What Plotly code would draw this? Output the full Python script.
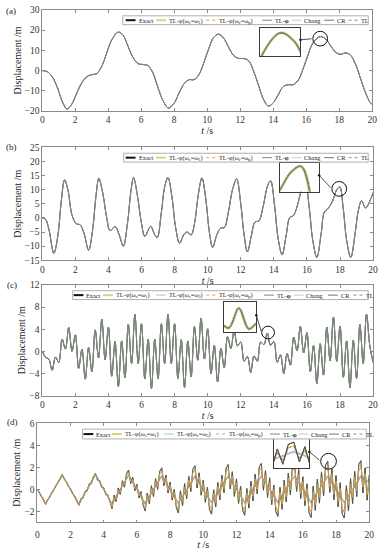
import re
import plotly.graph_objects as go

W, H = 385, 550
FONT = "Liberation Serif, Times New Roman, serif"

# ---------------- data ----------------
# (a)
t_a = [0, 0.3, 0.6, 0.9, 1.2, 1.5, 1.8, 2.1, 2.4, 2.7, 3.0, 3.3, 3.6, 3.9, 4.2, 4.6, 4.9, 5.2, 5.5, 5.8,
       6.1, 6.4, 6.7, 7.0, 7.3, 7.65, 8.0, 8.3, 8.6, 8.9, 9.2, 9.5, 9.8, 10.1, 10.4, 10.7, 11.0, 11.3,
       11.6, 11.9, 12.2, 12.5, 12.8, 13.1, 13.4, 13.7, 14.0, 14.3, 14.6, 14.9, 15.2, 15.5, 15.8, 16.1,
       16.4, 16.85, 17.2, 17.5, 17.8, 18.1, 18.4, 18.7, 19.0, 19.3, 19.6, 19.9, 20.0]
y_a = [0, -0.5, -3, -8, -15, -19, -16.5, -11, -6, -3, -2, -1.5, 2, 8.5, 15, 19, 17.5, 12, 6.5, 3.5,
       3, 2.5, -1, -8, -14.5, -18.5, -16, -11, -6.5, -4.5, -4.5, -2, 4, 11, 16.5, 18, 16, 11.5,
       7.5, 6, 6, 5, 0, -7, -14, -17.5, -16, -12, -8, -7, -7, -5, 0.5, 7.5,
       13.5, 16.8, 15.5, 12, 9, 8, 8.8, 7.5, 3, -4, -11, -16, -16.5]

# (b)
t_b = [0.0, 0.2, 0.4, 0.7, 0.95, 1.15, 1.35, 1.55, 1.8, 2.05,
       2.3, 2.55, 2.8, 3.05, 3.25, 3.42, 3.65, 3.9, 4.1, 4.4,
       4.65, 4.9, 5.15, 5.35, 5.52, 5.75, 6.0, 6.2, 6.55, 6.8,
       6.95, 7.2, 7.4, 7.6, 7.85, 8.05, 8.3, 8.55, 8.75, 9.0,
       9.2, 9.45, 9.65, 9.9, 10.1, 10.3, 10.55, 10.8, 11.0, 11.25,
       11.5, 11.75, 12.0, 12.2, 12.4, 12.65, 12.85, 13.1, 13.35, 13.6,
       13.8, 14.05, 14.25, 14.5, 14.75, 14.95, 15.2, 15.45, 15.7, 15.9,
       16.15, 16.35, 16.6, 16.85, 17.05, 17.3, 17.55, 17.8, 17.98, 18.2,
       18.4, 18.65, 18.9, 19.1, 19.3, 19.55, 19.8, 20.0]
y_b = [0, -0.5, -4, -12.5, -6, 6, 13.5, 10, 1, -2,
       -2.5, -6, -11.5, -4, 8, 14, 9, 0, -4.5, -3,
       -6, -10, -2, 9, 14.3, 8, -2, -6.5, -3, -6,
       -7, 2, 11, 14.3, 7, -3, -9, -6, -5, -6,
       -2, 9, 14.2, 6, -5, -10.5, -6, -3.5, -3.5, 2,
       10, 13.8, 5, -6, -12, -6, -1.5, -1, 4, 11,
       13.2, 4, -7, -13, -6, 0, 1, 5, 10.5, 12,
       3, -8, -14, -6, 2, 3.5, 6, 10, 11, 3,
       -8, -14, -6, 2.5, 6, 3.5, 6, 9]

# (c) sampled every 0.2 s
t_c = [round(0.2 * k, 1) for k in range(101)]
y_c = [0, -1.07, -1.42, -3.4, -1.02, -1.97, 2.17, 0.42, 4.3, 0.02,
       2.97, -3.07, 0.38, -5.0, 0.68, -3.67, 3.87, -1.18, 5.8, -1.48,
       4.37, -4.47, 1.78, -6.3, 1.88, -4.77, 4.87, -2.18, 6.7, -2.18,
       4.97, -4.97, 2.18, -6.7, 2.18, -4.97, 4.97, -2.18, 6.7, -2.18,
       4.97, -4.87, 2.08, -6.5, 1.88, -4.57, 4.47, -1.58, 6.0, -1.38,
       4.07, -3.97, 1.08, -5.5, 0.58, -2.97, 2.67, 0.52, 3.7, 1.02,
       1.67, -1.77, -0.92, -3.8, -0.82, -1.77, 1.67, 1.22, 3.3, 1.12,
       1.77, -1.97, -0.62, -4.0, -0.42, -2.47, 2.57, 0.12, 4.5, -0.28,
       3.37, -3.67, 1.08, -5.8, 1.38, -4.27, 4.37, -1.68, 6.2, -1.78,
       4.57, -4.67, 1.88, -6.5, 1.98, -4.87, 4.87, -2.18, 6.7, 1.0,
       -2.0]

# (d) sampled every 0.125 s
t_d_osc = [0.125 * k for k in range(161)]
# exact / TL-phi: full high-frequency response
y_d_osc = [0, -0.3, -0.7, -0.95,
           -1.35, -0.93, -0.7, -0.28, -0.05, 0.38, 0.6, 1.03, 1.35, 0.93, 0.7, 0.28, 0.05, -0.38, -0.6, -1.03,
           -1.45, -0.83, -0.8, -0.18, -0.15, 0.48, 0.5, 1.13, 1.45, 0.83, 0.8, 0.18, 0.15, -0.48, -0.5, -1.13,
           -1.75, -0.53, -1.1, 0.13, -0.45, 0.78, 0.2, 1.43, 1.75, 0.53, 1.1, -0.13, 0.45, -0.78, -0.2, -1.43,
           -1.95, -0.33, -1.3, 0.33, -0.65, 0.98, 0.0, 1.63, 1.95, 0.33, 1.3, -0.33, 0.65, -0.98, 0.0, -1.63,
           -2.15, -0.13, -1.5, 0.53, -0.85, 1.18, -0.2, 1.83, 2.15, 0.13, 1.5, -0.53, 0.85, -1.18, 0.2, -1.83,
           -2.25, -0.03, -1.6, 0.63, -0.95, 1.28, -0.3, 1.93, 2.25, 0.03, 1.6, -0.63, 0.95, -1.28, 0.3, -1.93,
           -2.35, 0.08, -1.7, 0.73, -1.05, 1.38, -0.4, 2.03, 2.35, -0.08, 1.7, -0.73, 1.05, -1.38, 0.4, -2.03,
           -2.45, 0.18, -1.8, 0.83, -1.15, 1.48, -0.5, 2.13, 2.45, -0.18, 1.8, -0.83, 1.15, -1.48, 0.5, -2.13,
           -2.55, 0.28, -1.9, 0.93, -1.25, 1.58, -0.6, 2.23, 2.55, -0.28, 1.9, -0.93, 1.25, -1.58, 0.6, -2.23,
           -2.6, 0.33, -1.95, 0.98, -1.3, 1.63, -0.65, 2.28, 2.6, -0.33, 1.95, -0.98, 1.3]
# TL-phi(wc=w1), TL-phi(wc=wp): reduced high-frequency response (orange / yellow band)
y_d_mid = [0, -0.32, -0.67, -0.97,
           -1.33, -0.95, -0.68, -0.3, -0.03, 0.36, 0.62, 1.0, 1.33, 0.95, 0.68, 0.3, 0.03, -0.36, -0.62, -1.0,
           -1.4, -0.88, -0.75, -0.23, -0.1, 0.43, 0.55, 1.08, 1.4, 0.88, 0.75, 0.23, 0.1, -0.43, -0.55, -1.08,
           -1.57, -0.71, -0.92, -0.06, -0.27, 0.6, 0.38, 1.25, 1.57, 0.71, 0.92, 0.06, 0.27, -0.6, -0.38, -1.25,
           -1.7, -0.58, -1.05, 0.08, -0.4, 0.73, 0.25, 1.38, 1.7, 0.58, 1.05, -0.08, 0.4, -0.73, -0.25, -1.38,
           -1.8, -0.48, -1.15, 0.18, -0.5, 0.83, 0.15, 1.48, 1.8, 0.48, 1.15, -0.18, 0.5, -0.83, -0.15, -1.48,
           -1.87, -0.41, -1.22, 0.25, -0.57, 0.9, 0.08, 1.55, 1.87, 0.41, 1.22, -0.25, 0.57, -0.9, -0.08, -1.55,
           -1.93, -0.35, -1.28, 0.31, -0.63, 0.96, 0.02, 1.61, 1.93, 0.35, 1.28, -0.31, 0.63, -0.96, -0.02, -1.61,
           -2.0, -0.28, -1.35, 0.38, -0.7, 1.03, -0.05, 1.68, 2.0, 0.28, 1.35, -0.38, 0.7, -1.03, 0.05, -1.68,
           -2.05, -0.23, -1.4, 0.43, -0.75, 1.08, -0.1, 1.73, 2.05, 0.23, 1.4, -0.43, 0.75, -1.08, 0.1, -1.73,
           -2.08, -0.2, -1.43, 0.46, -0.78, 1.11, -0.13, 1.76, 2.08, 0.2, 1.43, -0.46, 0.78]
# dissipative solutions (no high-frequency part)
t_d_tri = [0, 0.5, 1.5, 2.5, 3.5, 4.5, 5.5, 6.5, 7.5, 8.5, 9.5, 10.5, 11.5, 12.5, 13.5, 14.5,
           15.5, 16.5, 17.5, 18.5, 19.5, 20]
y_d_tri = [0, -1.3, 1.3, -1.35, 1.35, -1.35, 1.3, -1.3, 1.25, -1.25, 1.2, -1.2, 1.2, -1.2, 1.2, -1.2,
           1.2, -1.2, 1.2, -1.2, 1.2, 0.6]

# series labels
keys_ab = ["exact", "w1", "wp", "tlphi", "chang", "cr", "tl"]
keys_cd = ["exact", "w1", "w3", "wp", "tlphi", "chang", "cr", "tl"]
labels = {
    "exact": "Exact",
    "w1": "TL-φ(ω<sub>c</sub>=ω<sub>1</sub>)",
    "w3": "TL-φ(ω<sub>c</sub>=ω<sub>3</sub>)",
    "wp": "TL-φ(ω<sub>c</sub>=ω<sub>p</sub>)",
    "tlphi": "TL-<b>φ</b>",
    "chang": "Chang",
    "cr": "CR",
    "tl": "TL",
}
styles = {
    "exact": dict(color="#111111", width=0.5, dash="solid"),
    "w1": dict(color="#ddd27e", width=0.8, dash="solid"),
    "w3": dict(color="#9ccbe2", width=0.6, dash="solid"),
    "wp": dict(color="#ef9a4e", width=0.6, dash="dot"),
    "tlphi": dict(color="#7c8a7a", width=1.0, dash="solid"),
    "chang": dict(color="#cbc6dc", width=0.6, dash="solid"),
    "cr": dict(color="#6a7688", width=0.6, dash="solid"),
    "tl": dict(color="#8a8a8a", width=0.6, dash="dot"),
}
d_style = {"exact": dict(color="#2a2a22", width=0.7), "tlphi": dict(color="#4f5e45", width=0.7),
           "w1": dict(color="#d8bc5c", width=0.8), "wp": dict(color="#d9874a", width=0.9),
           "chang": dict(color="#c4b6d8", width=1.5)}

order_abc = ["w1", "wp", "chang", "exact", "cr", "tl", "tlphi"]
order_c = ["w1", "w3", "wp", "chang", "exact", "cr", "tl", "tlphi"]
panels = [
    dict(lab="(a)", keys=keys_ab, order=order_abc, iorder=order_abc,
         data={k: (t_a, y_a) for k in keys_ab}, shape="spline",
         xpx=(41, 377), ypx=(5, 108), yr=(-20, 30), dy=10, labpx=(2, 6),
         lgd=(123, 373, 11, 20), lgx=[126, 157, 208, 265, 295, 328, 353], ipx=(263, 304, 23, 52),
         irng=((16.35, 17.35), (13.3, 17.6)), circ=(16.85, 15.8, 7.5), xt_pad=0),
    dict(lab="(b)", keys=keys_ab, order=order_abc, iorder=order_abc,
         data={k: (t_b, y_b) for k in keys_ab}, shape="spline",
         xpx=(41, 378), ypx=(145, 260), yr=(-15, 25), dy=5, labpx=(2, 145),
         lgd=(124, 373, 151, 160), lgx=[126, 157, 208, 265, 295, 328, 353], ipx=(283, 323, 161, 190),
         irng=((17.6, 18.3), (6.5, 11.6)), circ=(17.95, 10.3, 7.5), xt_pad=0),
    dict(lab="(c)", keys=keys_cd, order=order_c, iorder=order_c,
         data={k: (t_c, y_c) for k in keys_cd}, shape="spline",
         xpx=(41, 378), ypx=(285, 398), yr=(-8, 12), dy=4, labpx=(3, 285),
         lgd=(72, 373, 291, 300), lgx=[73, 103, 157, 208, 267, 297, 332, 358], ipx=(226, 259, 303, 333),
         irng=((13.3, 13.95), (0.8, 3.9)), circ=(13.65, 3.4, 6.5), xt_pad=0),
    dict(lab="(d)", keys=keys_cd, order=["chang", "cr", "tl", "w3", "exact", "tlphi", "w1", "wp"],
         iorder=["w1", "wp", "w3", "cr", "tl", "chang", "exact", "tlphi"],
         data={"exact": (t_d_osc, y_d_osc), "tlphi": (t_d_osc, y_d_osc),
               "w1": (t_d_osc, y_d_mid), "wp": (t_d_osc, y_d_mid),
               "w3": (t_d_tri, y_d_tri), "chang": (t_d_tri, y_d_tri),
               "cr": (t_d_tri, y_d_tri), "tl": (t_d_tri, y_d_tri)},
         shape="linear",
         xpx=(36, 374), ypx=(426, 527), yr=(-3, 6), dy=2, labpx=(3, 425),
         lgd=(82, 371, 432, 442), lgx=[83, 112, 165, 218, 273, 302, 333, 358], ipx=(277, 313, 442, 472),
         irng=((17.05, 17.85), (-1.2, 3.0)), circ=(17.55, 2.55, 8), xt_pad=3),
]

fig = go.Figure()
shapes, annos = [], []
layout = dict(width=W, height=H, margin=dict(l=0, r=0, t=0, b=0),
              paper_bgcolor="white", plot_bgcolor="white", showlegend=False)

axis_base = dict(showline=True, linecolor="#8a8a8a", linewidth=0.8, mirror="ticks",
                 ticks="inside", ticklen=3, tickcolor="#8a8a8a", tickwidth=0.8,
                 showgrid=False, zeroline=False,
                 tickfont=dict(family=FONT, size=9.5, color="#333333"))
inset_base = dict(showline=True, linecolor="#3a3a3a", linewidth=1, mirror=True, ticks="",
                  showticklabels=False, showgrid=False, zeroline=False)


def get_style(p, k):
    st = dict(styles[k])
    if p["lab"] == "(d)" and k in d_style:
        st.update(d_style[k])
    return st


for i, p in enumerate(panels):
    n = i + 1
    ni = i + 5
    xs = "" if n == 1 else str(n)
    xid, yid = "x" + xs, "y" + xs
    xiid, yiid = "x%d" % ni, "y%d" % ni
    x0, x1 = p["xpx"]
    y0, y1 = p["ypx"]
    ymin, ymax = p["yr"]

    for k in p["order"]:
        st = get_style(p, k)
        tx, ty = p["data"][k]
        fig.add_trace(go.Scatter(x=tx, y=ty, mode="lines", name=re.sub(r"<.*?>", "", labels[k]),
                                 line=dict(color=st["color"], width=st["width"], dash=st["dash"],
                                           shape=p["shape"]),
                                 xaxis=xid, yaxis=yid, showlegend=False, hoverinfo="skip"))
    for k in p["iorder"]:
        st = get_style(p, k)
        tx, ty = p["data"][k]
        if k == "w1" and p["lab"] != "(d)":
            wdt = 3.0
        else:
            wdt = st["width"] * 1.3
        fig.add_trace(go.Scatter(x=tx, y=ty, mode="lines", name=re.sub(r"<.*?>", "", labels[k]),
                                 line=dict(color=st["color"], width=wdt, dash=st["dash"],
                                           shape=p["shape"]),
                                 xaxis=xiid, yaxis=yiid, showlegend=False, hoverinfo="skip"))

    xa = dict(axis_base, domain=[x0 / W, x1 / W], range=[0, 20], dtick=2, anchor=yid,
              title=dict(text="<i>t</i> /s", font=dict(family=FONT, size=10, color="#222"),
                         standoff=0 if p["xt_pad"] else 1))
    if p["xt_pad"]:
        xa["ticklabelstandoff"] = p["xt_pad"]
    ya = dict(axis_base, domain=[1 - y1 / H, 1 - y0 / H], range=[ymin, ymax], dtick=p["dy"],
              anchor=xid,
              title=dict(text="Displacement /m", font=dict(family=FONT, size=10, color="#222"),
                         standoff=1))
    layout["xaxis" + xs] = xa
    layout["yaxis" + xs] = ya

    ix0, ix1, iy0, iy1 = p["ipx"]
    (rx0, rx1), (ry0, ry1) = p["irng"]
    layout["xaxis%d" % ni] = dict(inset_base, domain=[ix0 / W, ix1 / W], range=[rx0, rx1], anchor=yiid)
    layout["yaxis%d" % ni] = dict(inset_base, domain=[1 - iy1 / H, 1 - iy0 / H], range=[ry0, ry1],
                                  anchor=xiid)
    shapes.append(dict(type="rect", xref=xiid, yref=yiid, x0=rx0, x1=rx1, y0=ry0, y1=ry1,
                       fillcolor="white", line=dict(width=0), layer="below"))

    ct, cy_, rpx = p["circ"]
    sx = (x1 - x0) / 20.0
    sy = (y1 - y0) / (ymax - ymin)
    shapes.append(dict(type="circle", xref=xid, yref=yid, x0=ct - rpx / sx, x1=ct + rpx / sx,
                       y0=cy_ - rpx / sy, y1=cy_ + rpx / sy, line=dict(color="#111", width=1)))
    cpx = x0 + ct * sx
    cpy = y0 + (ymax - cy_) * sy
    hx, hy = ix1, (iy0 + iy1) / 2 - 2
    annos.append(dict(x=hx / W, y=1 - hy / H, xref="paper", yref="paper",
                      ax=(cpx - rpx) - hx, ay=cpy - hy, axref="pixel", ayref="pixel",
                      showarrow=True, arrowhead=6, arrowsize=0.8, arrowwidth=0.8,
                      arrowcolor="#222", text=""))

    lx, ly = p["labpx"]
    annos.append(dict(x=lx / W, y=1 - ly / H, xref="paper", yref="paper", xanchor="left",
                      yanchor="middle", showarrow=False, text=p["lab"],
                      font=dict(family=FONT, size=9, color="#222")))

    # legend drawn as a guide box at the reference's place
    bx0, bx1, by0, by1 = p["lgd"]
    shapes.append(dict(type="rect", xref="paper", yref="paper", x0=bx0 / W, x1=bx1 / W,
                       y0=1 - by1 / H, y1=1 - by0 / H, fillcolor="white",
                       line=dict(color="#9a9a9a", width=0.8)))
    ym = (by0 + by1) / 2
    for k, lx0 in zip(p["keys"], p["lgx"]):
        st = styles[k]
        lw = 2.0 if k in ("exact", "w1") else 1.0
        shapes.append(dict(type="line", xref="paper", yref="paper", x0=lx0 / W, x1=(lx0 + 10) / W,
                           y0=1 - ym / H, y1=1 - ym / H,
                           line=dict(color=st["color"], width=lw, dash=st["dash"])))
        annos.append(dict(x=(lx0 + 11) / W, y=1 - (ym + 0.3) / H, xref="paper", yref="paper",
                          xanchor="left", yanchor="middle", showarrow=False, text=labels[k],
                          font=dict(family=FONT, size=6.3, color="#222")))

layout["shapes"] = shapes
layout["annotations"] = annos
fig.update_layout(**layout)
fig.write_html("out.html", config={"displayModeBar": False},
               post_script="document.body.style.margin='0px';document.body.style.overflow='hidden';")
